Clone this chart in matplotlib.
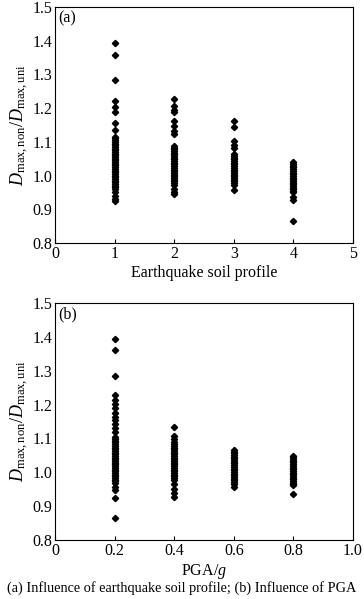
import matplotlib
matplotlib.use("Agg")
import matplotlib.pyplot as plt

plt.rcParams['font.family'] = ['Liberation Serif', 'DejaVu Serif']
plt.rcParams['mathtext.fontset'] = 'custom'
plt.rcParams['mathtext.rm'] = 'Liberation Serif'
plt.rcParams['mathtext.it'] = 'Liberation Serif:italic'

# Panel (a): ratio by earthquake soil profile
soil1 = [1.392, 1.359, 1.284, 1.222, 1.203, 1.190, 1.155, 1.134, 1.115,
         1.110, 1.105, 1.100, 1.095, 1.090, 1.085, 1.080, 1.075, 1.070, 1.065,
         1.060, 1.055, 1.050, 1.045, 1.040, 1.035, 1.030, 1.025, 1.020, 1.015,
         1.010, 1.005, 1.000, 0.995, 0.990, 0.985, 0.980, 0.975, 0.970, 0.966,
         0.960, 0.950, 0.940, 0.930, 0.924]
soil2 = [1.227, 1.205, 1.195, 1.188, 1.162, 1.148, 1.133, 1.122,
         1.088, 1.083, 1.078, 1.073, 1.068, 1.063, 1.058, 1.053, 1.048, 1.043,
         1.038, 1.033, 1.028, 1.023, 1.018, 1.013, 1.008, 1.003, 0.998, 0.993,
         0.988, 0.983, 0.978, 0.973, 0.960, 0.951, 0.946]
soil3 = [1.162, 1.145, 1.104, 1.092, 1.083, 1.063, 1.058, 1.053, 1.048,
         1.043, 1.038, 1.033, 1.028, 1.023, 1.018, 1.013, 1.008, 1.003, 0.998,
         0.993, 0.988, 0.983, 0.978, 0.973, 0.956]
soil4 = [1.039, 1.034, 1.029, 1.024, 1.019, 1.014, 1.009, 1.004, 0.999,
         0.994, 0.989, 0.984, 0.979, 0.974, 0.969, 0.964, 0.959, 0.954, 0.951,
         0.937, 0.927, 0.866]
soil_x = [1, 2, 3, 4]
soil_vals = [soil1, soil2, soil3, soil4]

# Panel (b): ratio by PGA/g
pga02 = [1.394, 1.360, 1.285, 1.228, 1.214, 1.201, 1.191, 1.176, 1.164,
         1.154, 1.142, 1.130, 1.118, 1.103, 1.098, 1.093, 1.088, 1.083, 1.078,
         1.073, 1.068, 1.063, 1.058, 1.053, 1.048, 1.043, 1.038, 1.033, 1.028,
         1.023, 1.018, 1.013, 1.008, 1.003, 0.998, 0.993, 0.988, 0.983, 0.978,
         0.973, 0.968, 0.956, 0.948, 0.925, 0.865]
pga04 = [1.135, 1.108, 1.098, 1.088, 1.083, 1.078, 1.073, 1.068, 1.063,
         1.058, 1.053, 1.048, 1.043, 1.038, 1.033, 1.028, 1.023, 1.018, 1.013,
         1.008, 1.003, 0.998, 0.993, 0.988, 0.983, 0.978, 0.966, 0.951, 0.938,
         0.927]
pga06 = [1.066, 1.061, 1.056, 1.051, 1.046, 1.041, 1.036, 1.031, 1.026,
         1.021, 1.016, 1.011, 1.006, 1.001, 0.996, 0.991, 0.986, 0.981, 0.976,
         0.971, 0.966, 0.956]
pga08 = [1.049, 1.044, 1.039, 1.034, 1.029, 1.024, 1.019, 1.014, 1.009,
         1.004, 0.999, 0.994, 0.989, 0.984, 0.979, 0.974, 0.969, 0.964, 0.961,
         0.935]
pga_x = [0.2, 0.4, 0.6, 0.8]
pga_vals = [pga02, pga04, pga06, pga08]

yticks = [0.8, 0.9, 1.0, 1.1, 1.2, 1.3, 1.4, 1.5]
xticks_a = [0, 1, 2, 3, 4, 5]
xticks_b = [0, 0.2, 0.4, 0.6, 0.8, 1.0]

W, H = 364, 599
fig = plt.figure(figsize=(W / 100, H / 100), dpi=100)

L, R = 55, 353
ax1 = fig.add_axes([L / W, 1 - 243 / H, (R - L) / W, (243 - 7) / H])
ax2 = fig.add_axes([L / W, 1 - 540 / H, (R - L) / W, (540 - 303) / H])

ylabel = r'$D_{\mathrm{max,non}}/D_{\mathrm{max,uni}}$'

def style(ax, xticks, xlabels, xlabel, panel):
    ax.set_ylim(0.8, 1.5)
    ax.set_yticks(yticks)
    ax.set_yticklabels([f'{v:.1f}' for v in yticks])
    ax.set_xticks(xticks)
    ax.set_xticklabels(xlabels)
    ax.tick_params(axis='x', direction='in', length=3, width=0.8, labelsize=11.5, pad=2.5)
    ax.tick_params(axis='y', length=0, labelsize=11.5, pad=2)
    ax.set_xlabel(xlabel, fontsize=11.5, labelpad=2)
    ax.set_ylabel(ylabel, fontsize=13, labelpad=1)
    for s in ax.spines.values():
        s.set_linewidth(0.8)
    ax.text(0.012, 0.985, panel, transform=ax.transAxes, fontsize=11.5,
            ha='left', va='top')

for x, vals in zip(soil_x, soil_vals):
    ax1.plot([x] * len(vals), vals, linestyle='none', marker='D',
             markersize=3.2, color='black')
ax1.set_xlim(0, 5)
style(ax1, xticks_a, [str(v) for v in xticks_a], 'Earthquake soil profile', '(a)')

for x, vals in zip(pga_x, pga_vals):
    ax2.plot([x] * len(vals), vals, linestyle='none', marker='D',
             markersize=3.2, color='black')
ax2.set_xlim(0, 1.0)
style(ax2, xticks_b, ['0', '0.2', '0.4', '0.6', '0.8', '1.0'], r'PGA/$g$', '(b)')

fig.text(0.5, 1 - 588 / H,
         '(a) Influence of earthquake soil profile; (b) Influence of PGA',
         ha='center', va='center', fontsize=10.3)

fig.savefig('out.png', dpi=100)
